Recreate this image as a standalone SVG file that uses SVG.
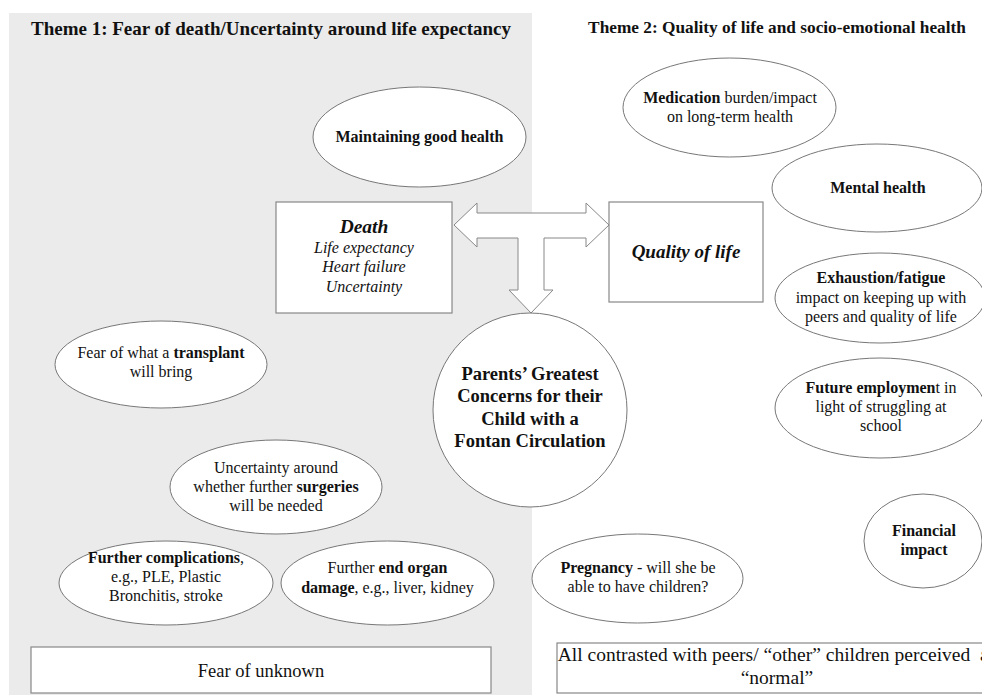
<svg xmlns="http://www.w3.org/2000/svg" width="982" height="695" viewBox="0 0 982 695">
<style>
text{font-family:"Liberation Serif","Times New Roman",serif;fill:#111;text-anchor:middle;}
.t{font-size:16px;}
.b{font-weight:bold;}
.el{fill:#fff;stroke:#777;stroke-width:1;}
.bx{fill:#fff;stroke:#888;stroke-width:1.2;}
.title{font-weight:bold;}
</style>
<rect x="9" y="13" width="523" height="682" fill="#ebebeb"/>
<g id="theme1-title"><text x="271" y="35" class="title" style="font-size:19px">Theme 1: Fear of death/Uncertainty around life expectancy</text></g>
<g id="theme2-title"><text x="777" y="33" class="title" style="font-size:17.3px">Theme 2: Quality of life and socio-emotional health</text></g>

<g id="connectors">
<path d="M454,225 L477,203 L477,213 L586,213 L586,203 L609,225 L586,247 L586,238 L544,238 L544,290 L553,290 L531,313 L509,290 L518,290 L518,238 L477,238 L477,247 Z" fill="#fff" stroke="#888" stroke-width="1"/>
</g>

<g id="maintaining">
<ellipse class="el" cx="419.5" cy="137" rx="106.5" ry="50"/>
<text x="419.5" y="142" class="t b">Maintaining good health</text>
</g>

<g id="death">
<rect class="bx" x="276" y="202" width="176" height="111"/>
<text x="364" y="233" style="font-size:19.5px;font-weight:bold;font-style:italic">Death</text>
<text x="364" y="253" class="t" style="font-style:italic">Life expectancy</text>
<text x="364" y="272" class="t" style="font-style:italic">Heart failure</text>
<text x="364" y="292" class="t" style="font-style:italic">Uncertainty</text>
</g>

<g id="quality">
<rect class="bx" x="609" y="202" width="154" height="100"/>
<text x="686" y="258" style="font-size:19px;font-weight:bold;font-style:italic">Quality of life</text>
</g>

<g id="center">
<circle class="el" cx="530" cy="410" r="97"/>
<text x="530" y="380" class="b" style="font-size:18.5px">Parents’ Greatest</text>
<text x="530" y="402" class="b" style="font-size:18.5px">Concerns for their</text>
<text x="530" y="425" class="b" style="font-size:18.5px">Child with a</text>
<text x="530" y="447" class="b" style="font-size:18.5px">Fontan Circulation</text>
</g>

<g id="transplant">
<ellipse class="el" cx="161" cy="364.5" rx="106" ry="43.5"/>
<text x="161" y="358" class="t">Fear of what a <tspan class="b">transplant</tspan></text>
<text x="161" y="377" class="t">will bring</text>
</g>

<g id="surgeries">
<ellipse class="el" cx="276" cy="487" rx="106" ry="47"/>
<text x="276" y="473" class="t">Uncertainty around</text>
<text x="276" y="492" class="t">whether further <tspan class="b">surgeries</tspan></text>
<text x="276" y="511" class="t">will be needed</text>
</g>

<g id="complications">
<ellipse class="el" cx="166" cy="583" rx="107" ry="42"/>
<text x="166" y="563" class="t"><tspan class="b">Further complications</tspan>,</text>
<text x="166" y="582" class="t">e.g., PLE, Plastic</text>
<text x="166" y="601" class="t">Bronchitis, stroke</text>
</g>

<g id="end-organ">
<ellipse class="el" cx="387.5" cy="583" rx="106.5" ry="42"/>
<text x="387.5" y="573" class="t">Further <tspan class="b">end organ</tspan></text>
<text x="387.5" y="593" class="t"><tspan class="b">damage</tspan>, e.g., liver, kidney</text>
</g>

<g id="fear-unknown">
<rect class="bx" x="31" y="647" width="460" height="46"/>
<text x="261" y="677" style="font-size:18.5px">Fear of unknown</text>
</g>

<g id="medication">
<ellipse class="el" cx="729.5" cy="107.5" rx="106.5" ry="49.5"/>
<text x="730" y="103" class="t"><tspan class="b">Medication</tspan> burden/impact</text>
<text x="730" y="122" class="t">on long-term health</text>
</g>

<g id="mental">
<ellipse class="el" cx="877" cy="188" rx="105" ry="44"/>
<text x="878" y="193" class="t b">Mental health</text>
</g>

<g id="exhaustion">
<ellipse class="el" cx="880" cy="298" rx="105" ry="45"/>
<text x="881" y="283" class="t b">Exhaustion/fatigue</text>
<text x="881" y="303" class="t">impact on keeping up with</text>
<text x="881" y="322" class="t">peers and quality of life</text>
</g>

<g id="employment">
<ellipse class="el" cx="880" cy="408" rx="105" ry="50"/>
<text x="881" y="393" class="t"><tspan class="b">Future employmen</tspan>t in</text>
<text x="881" y="412" class="t">light of struggling at</text>
<text x="881" y="431" class="t">school</text>
</g>

<g id="financial">
<ellipse class="el" cx="923" cy="541" rx="59" ry="47"/>
<text x="924" y="536" class="t b">Financial</text>
<text x="924" y="555" class="t b">impact</text>
</g>

<g id="pregnancy">
<ellipse class="el" cx="637.5" cy="578.5" rx="105.5" ry="44.5"/>
<text x="638" y="573" class="t"><tspan class="b">Pregnancy</tspan> - will she be</text>
<text x="638" y="592" class="t">able to have children?</text>
</g>

<g id="contrast">
<rect class="bx" x="557" y="643" width="442" height="50"/>
<text x="777" y="661" style="font-size:19.5px" xml:space="preserve">All contrasted with peers/ “other” children perceived  as</text>
<text x="777" y="684" style="font-size:19.5px">“normal”</text>
</g>
</svg>
